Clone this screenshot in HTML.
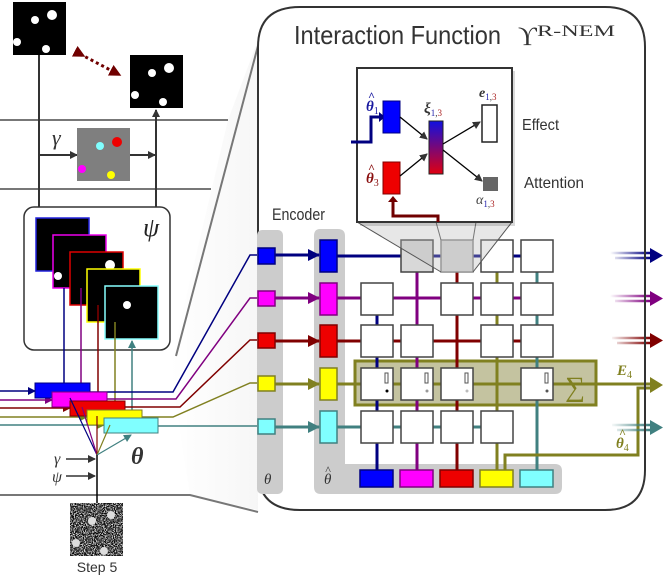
<!DOCTYPE html>
<html><head><meta charset="utf-8"><style>
html,body{margin:0;padding:0;background:#fff}
svg{display:block}
.t{font-family:"Liberation Sans Narrow","Liberation Sans",sans-serif;fill:#333}
.m{font-family:"Liberation Serif","DejaVu Serif",serif;font-style:italic}
</style></head><body>
<svg width="663" height="578" viewBox="0 0 663 578" xmlns="http://www.w3.org/2000/svg">
<defs>
<marker id="a" markerWidth="8" markerHeight="8" refX="7" refY="4" orient="auto" markerUnits="userSpaceOnUse"><path d="M0,0L8,4L0,8z" fill="#333"/></marker>
<marker id="ab" markerWidth="12" markerHeight="12" refX="11" refY="6" orient="auto" markerUnits="userSpaceOnUse"><path d="M0,0L12,6L0,12z" fill="#000080"/></marker>
<marker id="ap" markerWidth="12" markerHeight="12" refX="11" refY="6" orient="auto" markerUnits="userSpaceOnUse"><path d="M0,0L12,6L0,12z" fill="#800080"/></marker>
<marker id="ar" markerWidth="12" markerHeight="12" refX="11" refY="6" orient="auto" markerUnits="userSpaceOnUse"><path d="M0,0L12,6L0,12z" fill="#800000"/></marker>
<marker id="ao" markerWidth="12" markerHeight="12" refX="11" refY="6" orient="auto" markerUnits="userSpaceOnUse"><path d="M0,0L12,6L0,12z" fill="#808020"/></marker>
<marker id="at" markerWidth="12" markerHeight="12" refX="11" refY="6" orient="auto" markerUnits="userSpaceOnUse"><path d="M0,0L12,6L0,12z" fill="#408080"/></marker>
<marker id="sb" markerWidth="8" markerHeight="8" refX="7" refY="4" orient="auto" markerUnits="userSpaceOnUse"><path d="M0,0L8,4L0,8z" fill="#000080"/></marker>
<marker id="sp" markerWidth="8" markerHeight="8" refX="7" refY="4" orient="auto" markerUnits="userSpaceOnUse"><path d="M0,0L8,4L0,8z" fill="#800080"/></marker>
<marker id="sr" markerWidth="8" markerHeight="8" refX="7" refY="4" orient="auto" markerUnits="userSpaceOnUse"><path d="M0,0L8,4L0,8z" fill="#800000"/></marker>
<marker id="so" markerWidth="8" markerHeight="8" refX="7" refY="4" orient="auto" markerUnits="userSpaceOnUse"><path d="M0,0L8,4L0,8z" fill="#6a8a20"/></marker>
<marker id="st" markerWidth="8" markerHeight="8" refX="7" refY="4" orient="auto" markerUnits="userSpaceOnUse"><path d="M0,0L8,4L0,8z" fill="#408080"/></marker>
<marker id="dr" markerWidth="12" markerHeight="12" refX="6" refY="6" orient="auto" markerUnits="userSpaceOnUse"><path d="M0,0L12,6L0,12z" fill="#700000"/></marker>
<linearGradient id="xi" x1="0" y1="0" x2="0" y2="1"><stop offset="0" stop-color="#1010e0"/><stop offset="1" stop-color="#e00010"/></linearGradient>
<linearGradient id="fb" gradientUnits="userSpaceOnUse" x1="610" y1="0" x2="650" y2="0"><stop offset="0" stop-color="#000080" stop-opacity="0"/><stop offset="1" stop-color="#000080"/></linearGradient>
<linearGradient id="fp" gradientUnits="userSpaceOnUse" x1="610" y1="0" x2="650" y2="0"><stop offset="0" stop-color="#800080" stop-opacity="0"/><stop offset="1" stop-color="#800080"/></linearGradient>
<linearGradient id="fr" gradientUnits="userSpaceOnUse" x1="610" y1="0" x2="650" y2="0"><stop offset="0" stop-color="#800000" stop-opacity="0"/><stop offset="1" stop-color="#800000"/></linearGradient>
<linearGradient id="ft" gradientUnits="userSpaceOnUse" x1="610" y1="0" x2="650" y2="0"><stop offset="0" stop-color="#408080" stop-opacity="0"/><stop offset="1" stop-color="#408080"/></linearGradient>
<linearGradient id="sh" x1="0" x2="1"><stop offset="0" stop-color="#fff"/><stop offset="1" stop-color="#eee"/></linearGradient>
<filter id="noise" x="0" y="0" width="100%" height="100%">
<feTurbulence type="fractalNoise" baseFrequency="0.9" numOctaves="1" seed="3" result="n"/>
<feColorMatrix type="matrix" values="0 0 0 0 1  0 0 0 0 1  0 0 0 0 1  3 0 0 0 -1.4" in="n" result="w"/>
<feComposite in="w" in2="SourceGraphic" operator="over"/>
</filter>
</defs>

<!-- perspective shading -->
<polygon points="228,120 258,40 258,510 190,495 170,365" fill="url(#sh)" opacity="0.5"/>
<line x1="259" y1="42" x2="176" y2="356" stroke="#777" stroke-width="2"/>
<polyline points="0,495 190,495 258,512" fill="none" stroke="#777" stroke-width="2"/>
<line x1="0" y1="120" x2="228" y2="120" stroke="#777" stroke-width="2"/>
<line x1="0" y1="189" x2="211" y2="189" stroke="#777" stroke-width="2"/>

<!-- top images -->
<rect x="13" y="2" width="53" height="53" fill="#000"/>
<circle cx="35" cy="20" r="4" fill="#fff"/><circle cx="52" cy="15" r="5" fill="#fff"/><circle cx="17" cy="42" r="4" fill="#fff"/><circle cx="46" cy="49" r="4" fill="#fff"/>
<rect x="130" y="55" width="53" height="53" fill="#000"/>
<circle cx="152" cy="73" r="4" fill="#fff"/><circle cx="169" cy="68" r="5" fill="#fff"/><circle cx="135" cy="95" r="4" fill="#fff"/><circle cx="163" cy="102" r="4" fill="#fff"/>
<line x1="80" y1="54" x2="116" y2="73" stroke="#700000" stroke-width="3" stroke-dasharray="3,3" marker-start="url(#dr)" marker-end="url(#dr)"/>

<line x1="39" y1="55" x2="39" y2="207" stroke="#333" stroke-width="2"/>
<line x1="156" y1="207" x2="156" y2="110" stroke="#333" stroke-width="2" marker-end="url(#a)"/>
<line x1="39" y1="155" x2="77" y2="155" stroke="#333" stroke-width="2" marker-end="url(#a)"/>
<line x1="130" y1="155" x2="155" y2="155" stroke="#333" stroke-width="2" marker-end="url(#a)"/>
<text x="52" y="145" class="m" font-size="22" fill="#333">γ</text>
<rect x="77" y="128" width="53" height="53" fill="#7f7f7f"/>
<circle cx="100" cy="146" r="4" fill="#80ffff"/><circle cx="117" cy="142" r="5" fill="#e00"/><circle cx="82" cy="169" r="4" fill="#f0f"/><circle cx="111" cy="175" r="4" fill="#ff0"/>

<!-- psi box -->
<rect x="24" y="207" width="146" height="143" rx="10" fill="#fff" stroke="#333" stroke-width="1.5"/>
<text x="143" y="236" class="m" font-size="26" fill="#222">ψ</text>
<rect x="36" y="218" width="53" height="53" fill="#000" stroke="#22d" stroke-width="1.5"/>
<rect x="53" y="235" width="53" height="53" fill="#000" stroke="#e0e" stroke-width="1.5"/>
<circle cx="58" cy="276" r="4" fill="#fff"/>
<rect x="70" y="252" width="53" height="53" fill="#000" stroke="#d00" stroke-width="1.5"/>
<circle cx="110" cy="265" r="5" fill="#fff"/>
<rect x="87" y="269" width="53" height="53" fill="#000" stroke="#ff0" stroke-width="1.5"/>
<rect x="105" y="286" width="53" height="53" fill="#000" stroke="#8ff" stroke-width="1.5"/>
<circle cx="127" cy="305" r="4" fill="#fff"/>

<line x1="64" y1="288" x2="64" y2="384" stroke="#000080" stroke-width="1.5"/>
<line x1="81" y1="288" x2="81" y2="393" stroke="#800080" stroke-width="1.5"/>
<line x1="98" y1="305" x2="98" y2="402" stroke="#800000" stroke-width="1.5"/>
<line x1="115" y1="322" x2="115" y2="411" stroke="#808020" stroke-width="1.5"/>
<line x1="132" y1="419" x2="132" y2="341" stroke="#408080" stroke-width="1.5" marker-end="url(#st)"/>

<line x1="0" y1="391" x2="35" y2="391" stroke="#000080" stroke-width="1.5" marker-end="url(#sb)"/>
<line x1="0" y1="400" x2="52" y2="400" stroke="#800080" stroke-width="1.5" marker-end="url(#sp)"/>
<line x1="0" y1="408" x2="70" y2="408" stroke="#800000" stroke-width="1.5" marker-end="url(#sr)"/>
<line x1="0" y1="417" x2="87" y2="417" stroke="#808020" stroke-width="1.5" marker-end="url(#so)"/>
<line x1="0" y1="425" x2="104" y2="425" stroke="#408080" stroke-width="1.5" marker-end="url(#so)"/>

<polyline points="90,392 173,392 250,255 258,255" fill="none" stroke="#000080" stroke-width="1.5"/>
<polyline points="107,399 176,399 250,298 258,298" fill="none" stroke="#800080" stroke-width="1.5"/>
<polyline points="124,407 180,407 250,340 258,340" fill="none" stroke="#800000" stroke-width="1.5"/>
<polyline points="141,417 173,417 250,383 258,383" fill="none" stroke="#808020" stroke-width="1.5"/>
<line x1="158" y1="426" x2="258" y2="426" stroke="#408080" stroke-width="1.5"/>

<rect x="35" y="383" width="55" height="15" fill="#00f" stroke="#000080"/>
<rect x="52" y="392" width="55" height="15" fill="#f0f" stroke="#800080"/>
<rect x="70" y="401" width="55" height="15" fill="#e00" stroke="#800000"/>
<rect x="87" y="410" width="55" height="15" fill="#ff0" stroke="#808020"/>
<rect x="104" y="418" width="54" height="15" fill="#80ffff" stroke="#408080"/>

<line x1="97" y1="455" x2="70" y2="398" stroke="#000080" stroke-width="1.2"/>
<line x1="97" y1="455" x2="82" y2="407" stroke="#800080" stroke-width="1.2"/>
<line x1="97" y1="455" x2="97" y2="416" stroke="#800000" stroke-width="1.2"/>
<line x1="97" y1="455" x2="110" y2="425" stroke="#808020" stroke-width="1.2"/>
<line x1="97" y1="455" x2="131" y2="435" stroke="#408080" stroke-width="1.2" marker-end="url(#st)"/>
<line x1="97" y1="455" x2="97" y2="503" stroke="#000" stroke-width="1.5"/>
<line x1="66" y1="459" x2="95" y2="459" stroke="#333" stroke-width="1.5" marker-end="url(#a)"/>
<line x1="66" y1="476" x2="95" y2="476" stroke="#333" stroke-width="1.5" marker-end="url(#a)"/>
<text x="54" y="464" class="m" font-size="16" fill="#333">γ</text>
<text x="52" y="482" class="m" font-size="16" fill="#333">ψ</text>
<text x="131" y="464" class="m" font-size="24" font-weight="bold" fill="#333">θ</text>
<rect x="70" y="503" width="53" height="53" fill="#111" filter="url(#noise)"/>
<g fill="#ddd">
<circle cx="92" cy="521" r="4"/><circle cx="111" cy="515" r="4"/><circle cx="76" cy="543" r="4"/><circle cx="104" cy="551" r="4"/>
</g>
<text x="97" y="572" class="t" font-size="14" text-anchor="middle" fill="#555">Step 5</text>

<!-- big box -->
<path d="M300,7 H605 Q645,7 645,47 V470 Q645,510 605,510 H300 Q258,510 258,470 V47 Q258,7 300,7 Z" fill="#fff" stroke="#333" stroke-width="2"/>
<text x="294" y="44" class="t" font-size="26" textLength="207" lengthAdjust="spacingAndGlyphs">Interaction Function</text>
<text x="518" y="45" font-family="Liberation Serif,serif" font-size="26" fill="#333">ϒ</text>
<text x="537" y="36" font-family="Liberation Serif,serif" font-size="16" fill="#333" textLength="78" lengthAdjust="spacingAndGlyphs">R-NEM</text>
<text x="272" y="220" class="t" font-size="17" fill="#444" textLength="53" lengthAdjust="spacingAndGlyphs">Encoder</text>

<!-- theta columns -->
<rect x="257" y="230" width="26" height="264" rx="5" fill="#ccc"/>
<text x="264" y="484" class="m" font-size="15" fill="#333">θ</text>
<path d="M320,229 H338 Q345,229 345,236 V464 H555 Q562,464 562,471 V487 Q562,494 555,494 H321 Q314,494 314,487 V236 Q314,229 320,229Z" fill="#ccc"/>
<text x="324" y="484" class="m" font-size="15" fill="#333">θ</text>
<text x="325" y="474" class="m" font-size="12" fill="#333">^</text>

<g stroke-width="1.5">
<rect x="258" y="248" width="17" height="16" fill="#00f" stroke="#000080"/>
<rect x="258" y="291" width="17" height="15" fill="#f0f" stroke="#800080"/>
<rect x="258" y="333" width="17" height="15" fill="#e00" stroke="#800000"/>
<rect x="258" y="376" width="17" height="15" fill="#ff0" stroke="#808020"/>
<rect x="258" y="419" width="17" height="15" fill="#80ffff" stroke="#408080"/>
</g>
<line x1="275" y1="255" x2="319" y2="255" stroke="#000080" stroke-width="3" marker-end="url(#ab)"/>
<line x1="275" y1="298" x2="319" y2="298" stroke="#800080" stroke-width="3" marker-end="url(#ap)"/>
<line x1="275" y1="341" x2="319" y2="341" stroke="#800000" stroke-width="3" marker-end="url(#ar)"/>
<line x1="275" y1="384" x2="319" y2="384" stroke="#808020" stroke-width="3" marker-end="url(#ao)"/>
<line x1="275" y1="427" x2="319" y2="427" stroke="#408080" stroke-width="3" marker-end="url(#at)"/>

<rect x="355" y="361" width="241" height="44" fill="#c4c3a0" stroke="#808020" stroke-width="3"/>
<text x="575" y="396" text-anchor="middle" font-family="Liberation Serif,serif" font-size="28" fill="#808020">∑</text>

<g stroke-width="3" fill="none">
<line x1="337" y1="256" x2="537" y2="256" stroke="#000080"/>
<line x1="337" y1="298" x2="537" y2="298" stroke="#800080"/>
<line x1="337" y1="341" x2="537" y2="341" stroke="#800000"/>
<line x1="337" y1="384" x2="652" y2="384" stroke="#808020"/>
<line x1="337" y1="427" x2="513" y2="427" stroke="#408080"/>
<line x1="377" y1="298" x2="377" y2="470" stroke="#000080"/>
<line x1="417" y1="256" x2="417" y2="470" stroke="#800080"/>
<line x1="457" y1="256" x2="457" y2="470" stroke="#800000"/>
<line x1="497" y1="256" x2="497" y2="470" stroke="#808020"/>
<line x1="537" y1="256" x2="537" y2="470" stroke="#408080"/>
<polyline points="505,470 505,455 638,455 638,388 650,388" stroke="#808020"/>
</g>
<g fill="#fff" stroke="#444" stroke-width="1.5">
<rect x="401" y="240" width="32" height="32" fill="#d8d8d8"/><rect x="441" y="240" width="32" height="32" fill="#d8d8d8" stroke="#888"/><rect x="481" y="240" width="32" height="32"/><rect x="521" y="240" width="32" height="32"/>
<rect x="361" y="283" width="32" height="32"/><rect x="441" y="283" width="32" height="32"/><rect x="481" y="283" width="32" height="32"/><rect x="521" y="283" width="32" height="32"/>
<rect x="361" y="325" width="32" height="32"/><rect x="401" y="325" width="32" height="32"/><rect x="481" y="325" width="32" height="32"/><rect x="521" y="325" width="32" height="32"/>
<rect x="361" y="368" width="32" height="32"/><rect x="401" y="368" width="32" height="32"/><rect x="441" y="368" width="32" height="32"/><rect x="521" y="368" width="32" height="32"/>
<rect x="361" y="411" width="32" height="32"/><rect x="401" y="411" width="32" height="32"/><rect x="441" y="411" width="32" height="32"/><rect x="481" y="411" width="32" height="32"/>
</g>
<g fill="#fff" stroke="#555" stroke-width="1">
<rect x="385" y="373" width="3" height="10"/><rect x="425" y="373" width="3" height="10"/><rect x="465" y="373" width="3" height="10"/><rect x="545" y="373" width="3" height="10"/>
</g>
<circle cx="387" cy="391" r="1.5" fill="#000"/><circle cx="427" cy="391" r="1.5" fill="#999"/><circle cx="467" cy="391" r="1.5" fill="#bbb"/><circle cx="547" cy="391" r="1.5" fill="#555"/>

<g stroke-width="1.5">
<rect x="320" y="240" width="17" height="32" fill="#00f" stroke="#000080"/>
<rect x="320" y="283" width="17" height="32" fill="#f0f" stroke="#800080"/>
<rect x="320" y="325" width="17" height="32" fill="#e00" stroke="#800000"/>
<rect x="320" y="368" width="17" height="32" fill="#ff0" stroke="#808020"/>
<rect x="320" y="411" width="17" height="32" fill="#80ffff" stroke="#408080"/>
<rect x="360" y="470" width="33" height="17" fill="#00f" stroke="#000080"/>
<rect x="400" y="470" width="33" height="17" fill="#f0f" stroke="#800080"/>
<rect x="440" y="470" width="33" height="17" fill="#e00" stroke="#800000"/>
<rect x="480" y="470" width="33" height="17" fill="#ff0" stroke="#808020"/>
<rect x="520" y="470" width="33" height="17" fill="#80ffff" stroke="#408080"/>
</g>

<!-- outputs right -->
<g stroke-width="2.5">
<line x1="610" y1="253" x2="651" y2="253" stroke="url(#fb)"/><line x1="615" y1="258" x2="651" y2="258" stroke="url(#fb)"/>
<line x1="610" y1="296" x2="651" y2="296" stroke="url(#fp)"/><line x1="615" y1="301" x2="651" y2="301" stroke="url(#fp)"/>
<line x1="612" y1="338" x2="651" y2="338" stroke="url(#fr)"/><line x1="617" y1="343" x2="651" y2="343" stroke="url(#fr)"/>
<line x1="612" y1="425" x2="651" y2="425" stroke="url(#ft)"/><line x1="617" y1="430" x2="651" y2="430" stroke="url(#ft)"/>
</g>
<line x1="645" y1="230" x2="645" y2="460" stroke="#333" stroke-width="2"/>
<path d="M650,248 L663,255.5 L650,263z" fill="#000080"/>
<path d="M650,291 L663,298.5 L650,306z" fill="#800080"/>
<path d="M650,333 L663,340.5 L650,348z" fill="#800000"/>
<path d="M650,377 L663,385 L650,393z" fill="#808020"/>
<path d="M650,420 L663,427.5 L650,435z" fill="#408080"/>
<text x="617" y="375" class="m" font-size="15" font-weight="bold" fill="#808020">E<tspan font-size="10" dy="3" font-weight="normal" font-style="normal">4</tspan></text>
<text x="616" y="448" class="m" font-size="15" font-weight="bold" fill="#808020">θ<tspan font-size="10" dy="3" font-weight="normal" font-style="normal">4</tspan></text>
<text x="619" y="437" class="m" font-size="12" font-weight="bold" fill="#808020">^</text>

<!-- zoom trapezoid -->
<polygon points="357,222 512,222 473,272 441,272" fill="#bbb" opacity="0.35"/>
<line x1="357" y1="222" x2="441" y2="272" stroke="#555" stroke-width="1"/>
<line x1="512" y1="222" x2="473" y2="272" stroke="#555" stroke-width="1"/>
<line x1="436" y1="222" x2="441" y2="240" stroke="#777" stroke-width="1"/>
<line x1="476" y1="222" x2="473" y2="240" stroke="#777" stroke-width="1"/>

<!-- inset -->
<rect x="360" y="71" width="155" height="155" fill="#000" opacity="0.15"/>
<rect x="357" y="68" width="155" height="154" fill="#fff" stroke="#333" stroke-width="2"/>
<polyline points="351,142 371,142 371,117 381,117" fill="none" stroke="#000080" stroke-width="3"/>
<path d="M379,112 L385,117 L379,122z" fill="#000080"/>
<polyline points="438,222 438,216 393,216 393,201" fill="none" stroke="#700000" stroke-width="3"/>
<path d="M388,202 L393,196 L398,202z" fill="#700000"/>
<rect x="383" y="101" width="17" height="32" fill="#00f" stroke="#000080"/>
<rect x="383" y="162" width="17" height="32" fill="#e00" stroke="#800000"/>
<rect x="429" y="121" width="14" height="53" fill="url(#xi)" stroke="#222"/>
<rect x="482" y="105" width="15" height="37" fill="#fff" stroke="#222" stroke-width="1.5"/>
<rect x="483" y="177" width="15" height="14" fill="#666"/>
<g stroke="#000" stroke-width="1.3">
<line x1="400" y1="117" x2="427" y2="139" marker-end="url(#a)"/>
<line x1="400" y1="176" x2="427" y2="154" marker-end="url(#a)"/>
<line x1="443" y1="144" x2="480" y2="122" marker-end="url(#a)"/>
<line x1="443" y1="150" x2="482" y2="181" marker-end="url(#a)"/>
</g>
<text x="366" y="111" class="m" font-size="15" font-weight="bold" fill="#1a1aa0">θ<tspan font-size="10" dy="3" font-style="normal" font-weight="normal">1</tspan></text>
<text x="368" y="100" class="m" font-size="12" font-weight="bold" fill="#1a1aa0">^</text>
<text x="366" y="183" class="m" font-size="15" font-weight="bold" fill="#8a1010">θ<tspan font-size="10" dy="3" font-style="normal" font-weight="normal">3</tspan></text>
<text x="368" y="172" class="m" font-size="12" font-weight="bold" fill="#8a1010">^</text>
<text x="424" y="113" class="m" font-size="15" font-weight="bold" fill="#333">ξ<tspan font-size="9" dy="3" font-style="normal" font-weight="normal"><tspan fill="#22a">1</tspan>,<tspan fill="#a22">3</tspan></tspan></text>
<text x="479" y="97" class="m" font-size="14" font-weight="bold" fill="#333">e<tspan font-size="9" dy="3" font-style="normal" font-weight="normal"><tspan fill="#22a">1</tspan>,<tspan fill="#a22">3</tspan></tspan></text>
<text x="476" y="204" class="m" font-size="14" fill="#444">α<tspan font-size="9" dy="3" font-style="normal"><tspan fill="#22a">1</tspan>,<tspan fill="#a22">3</tspan></tspan></text>
<text x="522" y="130" class="t" font-size="16" fill="#444" textLength="37" lengthAdjust="spacingAndGlyphs">Effect</text>
<text x="524" y="188" class="t" font-size="16" fill="#444" textLength="60" lengthAdjust="spacingAndGlyphs">Attention</text>
</svg>
</body></html>
